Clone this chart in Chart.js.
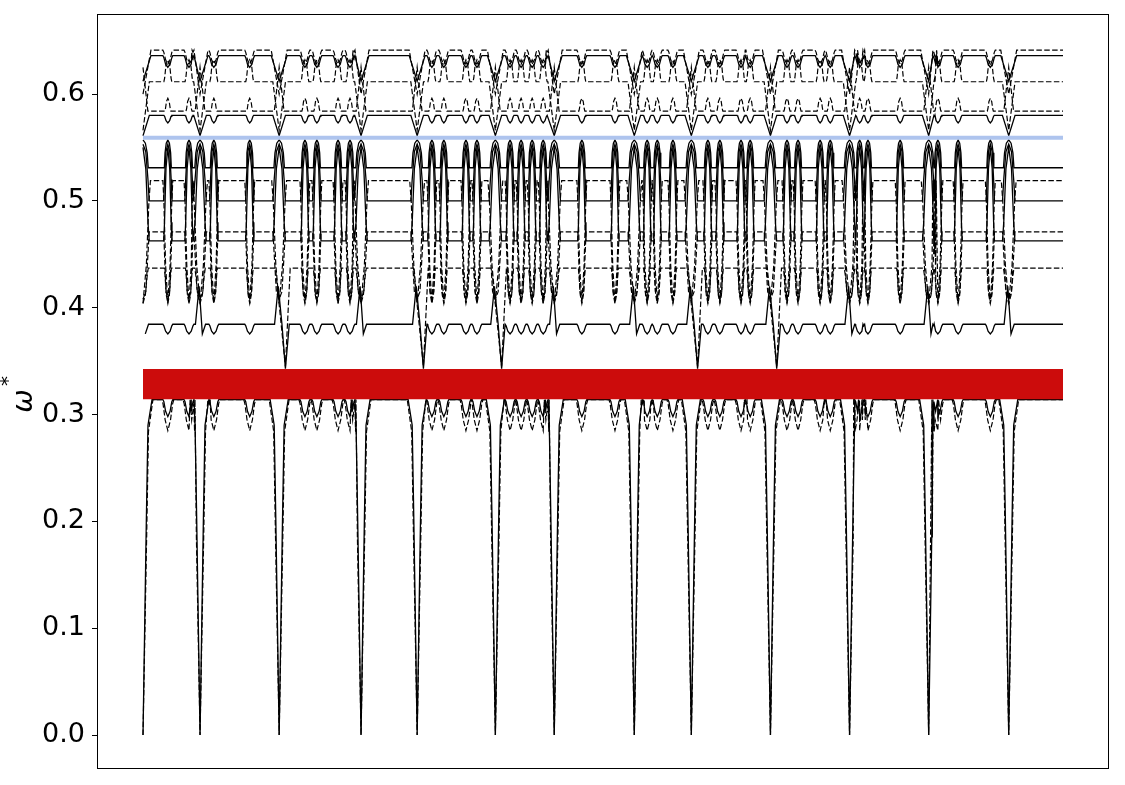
<!DOCTYPE html>
<html>
<head>
<meta charset="utf-8">
<script src="https://cdn.jsdelivr.net/npm/chart.js@4.4.0/dist/chart.umd.min.js"></script>
<style>
  body { margin: 0; background: #fff; }
  #wrap { width: 1125px; height: 785px; }
</style>
</head>
<body>
<div id="wrap"><canvas id="myChart" width="1125" height="785"></canvas></div>
<script>
// x runs along the path as a fraction 0..1 (no labels on the x axis)
// places where the lowest branch falls to zero
var breakK = [0, 0.062, 0.148, 0.237, 0.298, 0.383, 0.447, 0.534, 0.596, 0.682, 0.768, 0.854, 0.941];
// breaks where the 0.385 branch plunges down to the gap edge
var plungeK = [0.148, 0.298, 0.383, 0.596, 0.682];
// small dips between the breaks
var dipK = [0.027, 0.050, 0.077, 0.116, 0.176, 0.189, 0.212, 0.225, 0.314, 0.327, 0.351, 0.363,
            0.399, 0.411, 0.423, 0.435, 0.477, 0.513, 0.548, 0.559, 0.576, 0.614, 0.627, 0.650,
            0.660, 0.700, 0.712, 0.736, 0.747, 0.779, 0.788, 0.823, 0.864, 0.886, 0.921];

// where the values of a dip are taken, as a fraction of the half width
var dipShape = [-1, -0.8, -0.45, 0, 0.45, 0.8, 1];

// solid branches: flat level, values through a dip, half width of a dip
var solidLevel = [0.314, 0.3845, 0.4625, 0.500, 0.531, 0.580, 0.636];
var solidDip = [
    [0.314, 0.312, 0.303, 0.298, 0.303, 0.312, 0.314],
    [0.3845, 0.383, 0.378, 0.3755, 0.378, 0.383, 0.3845],
    [0.4625, 0.480, 0.530, 0.550, 0.530, 0.480, 0.4625],
    [0.500, 0.520, 0.546, 0.553, 0.546, 0.520, 0.500],
    [0.531, 0.545, 0.554, 0.557, 0.554, 0.545, 0.531],
    [0.580, 0.579, 0.575, 0.573, 0.575, 0.579, 0.580],
    [0.636, 0.634, 0.628, 0.625, 0.628, 0.634, 0.636]
];
var solidHalfW = [0.0054, 0.0054, 0.0045, 0.0045, 0.0038, 0.0043, 0.0054];
// value at a break for branches that do not simply repeat their dip there
var solidAtBreak = [null, null, null, null, null, 0.561, 0.612];

// dashed branches
var dashedLevel = [0.314, 0.437, 0.471, 0.519, 0.584, 0.6115, 0.641];
var dashedDip = [
    [0.314, 0.310, 0.295, 0.285, 0.295, 0.310, 0.314],
    [0.437, 0.430, 0.412, 0.404, 0.412, 0.430, 0.437],
    [0.471, 0.450, 0.415, 0.408, 0.415, 0.450, 0.471],
    [0.519, 0.500, 0.440, 0.404, 0.440, 0.500, 0.519],
    [0.584, 0.586, 0.593, 0.596, 0.593, 0.586, 0.584],
    [0.6115, 0.615, 0.628, 0.632, 0.628, 0.615, 0.6115],
    [0.641, 0.639, 0.632, 0.628, 0.632, 0.639, 0.641]
];
var dashedHalfW = [0.0065, 0.0038, 0.0045, 0.0054, 0.0033, 0.0043, 0.0054];
var dashedAtBreak = [null, null, null, null, 0.625, 0.566, 0.600];

// shape of the lowest branch around a break
var wellOff    = [-0.0098, -0.0054, -0.0036, 0, 0.0036, 0.0054, 0.0098];
var wellSolid  = [0.314, 0.290, 0.200, 0, 0.200, 0.290, 0.314];
var wellDashed = [0.314, 0.284, 0.185, 0, 0.185, 0.284, 0.314];

// the 0.385 branch around a break: spike up, then small dip or plunge
var spikeOff  = [-0.005, -0.001, 0.0025, 0.006];
var spikeVal  = [0.3845, 0.420, 0.3755, 0.3845];
var plungeOff = [-0.005, -0.001, 0.003, 0.0068, 0.011];
var plungeVal = [0.3845, 0.420, 0.385, 0.343, 0.3845];
var dashPlungeOff = [-0.004, 0.0068, 0.012];
var dashPlungeVal = [0.437, 0.345, 0.437];

var gapLow = 0.3144, gapHigh = 0.3425;   // red band
var blueLevel = 0.559;                    // light blue line
var yTickValues = [0, 0.1, 0.2, 0.3, 0.4, 0.5, 0.6];

function shape(pts, centers, offsets, values) {
    centers.forEach(function(c) {
        offsets.forEach(function(o, i) { pts.push({x: c + o, y: values[i]}); });
    });
}
function scaled(w) { return dipShape.map(function(f) { return f * w; }); }

var notPlunge = breakK.filter(function(k) { return plungeK.indexOf(k) < 0; });

function branch(level, dipVals, w, atBreak, special) {
    var pts = [{x: 1, y: level}];
    shape(pts, dipK, scaled(w), dipVals);
    if (special) {
        special(pts);
    } else if (atBreak !== null) {
        shape(pts, breakK, [-1.6 * w, 0, 1.6 * w], [level, atBreak, level]);
    } else {
        shape(pts, breakK, scaled(1.5 * w), dipVals);
    }
    return pts.filter(function(p) { return p.x >= 0 && p.x <= 1; })
              .sort(function(a, b) { return a.x - b.x; });
}

var lines = [];
solidLevel.forEach(function(L, i) {
    var special = null;
    if (i === 0) special = function(pts) { shape(pts, breakK, wellOff, wellSolid); };
    if (i === 1) special = function(pts) {
        shape(pts, notPlunge, spikeOff, spikeVal);
        shape(pts, plungeK, plungeOff, plungeVal);
    };
    lines.push({
        data: branch(L, solidDip[i], solidHalfW[i], solidAtBreak[i], special),
        borderColor: '#000', borderWidth: 1.3, pointRadius: 0, fill: false
    });
});
dashedLevel.forEach(function(L, i) {
    var special = null;
    var w = dashedHalfW[i];
    if (i === 0) special = function(pts) {
        shape(pts, breakK, wellOff.map(function(o) { return o * 1.1; }), wellDashed);
    };
    if (i === 1) special = function(pts) {
        shape(pts, notPlunge, scaled(1.5 * w), dashedDip[i]);
        shape(pts, plungeK, dashPlungeOff, dashPlungeVal);
    };
    lines.push({
        data: branch(L, dashedDip[i], w, dashedAtBreak[i], special),
        borderColor: '#000', borderWidth: 1.2, borderDash: [5.5, 2.4], pointRadius: 0, fill: false
    });
});

var frame = {
    id: 'frame',
    afterDraw: function(chart) {
        var c = chart.ctx, a = chart.chartArea;
        c.save();
        c.strokeStyle = '#000';
        c.lineWidth = 1;
        c.strokeRect(a.left + 0.5, a.top + 0.5, a.right - a.left - 1, a.bottom - a.top - 1);
        // y axis label: omega with a star
        c.fillStyle = '#000';
        c.translate(25, 401);
        c.rotate(-Math.PI / 2);
        c.textAlign = 'center';
        c.textBaseline = 'middle';
        c.font = 'italic 28px "DejaVu Sans"';
        c.fillText('\u03c9', 0, 0);
        c.font = '20px "DejaVu Sans"';
        c.fillText('*', 20, -16);
        c.restore();
    }
};

var ctx = document.getElementById('myChart');
var myChart = new Chart(ctx, {
    type: 'line',
    data: {
        datasets: [
            {data: [{x: 0, y: blueLevel}, {x: 1, y: blueLevel}], borderColor: '#aec4ee', borderWidth: 4, pointRadius: 0, fill: false},
            {data: [{x: 0, y: gapHigh}, {x: 1, y: gapHigh}], borderWidth: 0, pointRadius: 0,
             backgroundColor: '#cc0c0c', fill: {value: gapLow}}
        ].concat(lines)
    },
    options: {
        responsive: false,
        animation: false,
        events: [],
        layout: {padding: {left: 0, right: 16, top: 14, bottom: 16}},
        plugins: {legend: {display: false}, tooltip: {enabled: false}},
        scales: {
            x: {type: 'linear', min: -0.05, max: 1.05, display: false},
            y: {
                min: -0.0318, max: 0.6749,
                afterFit: function(s) { s.width = 97; s.paddingTop = 0; s.paddingBottom = 0; },
                afterBuildTicks: function(s) { s.ticks = yTickValues.map(function(v) { return {value: v}; }); },
                grid: {drawOnChartArea: false, tickLength: 5, tickColor: '#000', tickWidth: 1},
                border: {display: false},
                ticks: {
                    color: '#000', padding: 7,
                    font: {family: 'DejaVu Sans', size: 27},
                    callback: function(v) { return v.toFixed(1); }
                }
            }
        }
    },
    plugins: [frame]
});
</script>
</body>
</html>
